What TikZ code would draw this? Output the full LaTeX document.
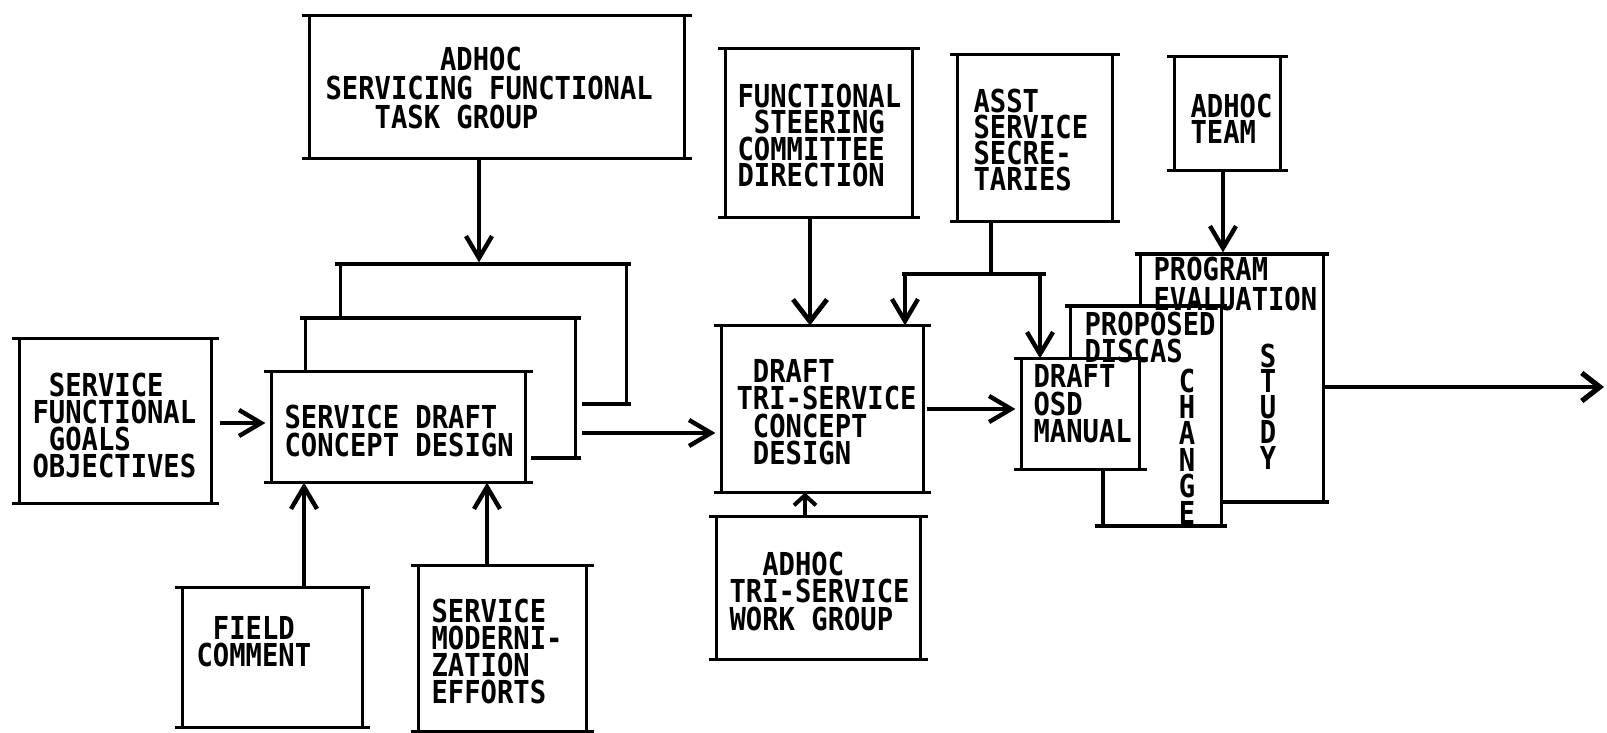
\documentclass[tikz,border=0pt]{standalone}
\usepackage{fontspec}
\newfontfamily\pfont[FakeStretch=0.86]{DejaVu Sans Mono}
\usetikzlibrary{arrows.meta,fit}
\begin{document}
\begin{tikzpicture}[x=0.5pt,y=-0.5pt,line width=1.6pt,
  box/.style={inner sep=0pt,
    append after command={\pgfextra{\let\bx\tikzlastnode}
      ([xshift=-3.5pt]\bx.north west) edge ([xshift=3.5pt]\bx.north east)
      ([xshift=-3.5pt]\bx.south west) edge ([xshift=3.5pt]\bx.south east)
      (\bx.north west) edge (\bx.south west)
      (\bx.north east) edge (\bx.south east)}},
  ghost/.style={inner sep=0pt},
  txt/.style={font=\pfont\bfseries\fontsize{15.8pt}{#1}\selectfont, align=left, inner sep=0pt, anchor=north west},
  txt/.default=13.75pt,
  vtxt/.style={font=\pfont\bfseries\fontsize{15.8pt}{#1}\selectfont, align=center, inner sep=0pt, anchor=north},
  arr/.style={-{Straight Barb[length=11pt,width=13pt,line width=2.2pt]}},
  arrwide/.style={-{Straight Barb[length=11pt,width=17pt,line width=2.4pt]}},
  arrsmall/.style={-{Straight Barb[length=5pt,width=11pt,line width=2pt]}},
  arrbig/.style={-{Straight Barb[length=9pt,width=14pt,line width=2.6pt]}}]
\useasboundingbox (0,0) rectangle (1607,733);

% boxes
\node[box, fit={(311,17)(683,157)}] (bA) {};
\node[box, fit={(727,50)(911,216)}] (bF) {};
\node[box, fit={(959,56)(1111,220)}] (bAS) {};
\node[box, fit={(1176,58)(1279,169)}] (bT) {};
\node[box, fit={(21,340)(210,502)}] (bS) {};
\node[ghost, fit={(342,264)(625,404)}] (bSD3) {};
\node[ghost, fit={(307,318)(574,458)}] (bSD2) {};
\node[box, fit={(273,373)(524,481)}] (bSD) {};
\node[box, fit={(184,589)(361,726)}] (bFC) {};
\node[box, fit={(420,567)(585,730)}] (bSME) {};
\node[box, fit={(723,327)(922,491)}] (bD) {};
\node[box, fit={(718,518)(919,658)}] (bW) {};
\node[ghost, fit={(1142,254)(1322,502)}] (bPE) {};
\node[ghost, fit={(1072,306)(1220,526)}] (bP) {};
\node[box, fit={(1023,360)(1138,468)}] (bM) {};

% partially hidden boxes
\draw (335,264) -- (631,264);
\draw (bSD3.north west) -- (bSD3.west |- bSD2.north);
\draw (bSD3.north east) -- (bSD3.south east);
\draw (582,404) -- (631,404);
\draw (300,318) -- (581,318);
\draw (bSD2.north west) -- (bSD2.west |- bSD.north);
\draw (bSD2.north east) -- (bSD2.south east);
\draw (531,458) -- (581,458);
\draw (1135,254) -- (1329,254);
\draw (bPE.north west) -- (bPE.west |- bP.north);
\draw (bPE.north east) -- (bPE.south east);
\draw (1220,502) -- (1329,502);
\draw (1065,306) -- (1227,306);
\draw (bP.north west) -- (bP.west |- bM.north);
\draw (bP.north east) -- (bP.south east);
\draw (1103,468) -- (1103,526);
\draw (1095,526) -- (1227,526);

% texts
\node[txt=14.5pt] (tA) at (324,45) {\phantom{XXXXXXX}ADHOC\\SERVICING FUNCTIONAL\\\phantom{XXX}TASK GROUP};
\node[txt=13.3pt] (tF) at (736,82) {FUNCTIONAL\\\phantom{X}STEERING\\COMMITTEE\\DIRECTION};
\node[txt=13pt] (tAS) at (972,87) {ASST\\SERVICE\\SECRE-\\TARIES};
\node[txt=13pt] (tT) at (1189,92) {ADHOC\\TEAM};
\node[txt=13.5pt] (tS) at (31,371) {\phantom{X}SERVICE\\FUNCTIONAL\\\phantom{X}GOALS\\OBJECTIVES};
\node[txt=14pt] (tSD) at (283,403) {SERVICE DRAFT\\CONCEPT DESIGN};
\node[txt=13.5pt] (tFC) at (195,615) {\phantom{X}FIELD\\COMMENT};
\node[txt=13.65pt] (tSME) at (430,597) {SERVICE\\MODERNI-\\ZATION\\EFFORTS};
\node[txt=13.65pt] (tD) at (735,358) {\phantom{X}DRAFT\\TRI-SERVICE\\\phantom{X}CONCEPT\\\phantom{X}DESIGN};
\node[txt=13.75pt] (tW) at (728,550) {\phantom{XX}ADHOC\\TRI-SERVICE\\WORK GROUP};
\node[txt=13.75pt] (tM) at (1032,363) {DRAFT\\OSD\\MANUAL};
\node[txt=13.5pt] (tP) at (1083,310) {PROPOSED\\DISCAS};
\node[txt=15pt] (tPE) at (1152,255) {PROGRAM\\EVALUATION};
\node[vtxt=13.2pt] (tCH) at (1187,367) {C\\H\\A\\N\\G\\E};
\node[vtxt=12.75pt] (tST) at (1268,342) {S\\T\\U\\D\\Y};

% connectors
\coordinate (a1) at ([xshift=-9pt]bA.south);
\draw[arr] (a1) -- (a1 |- bSD3.north);
\coordinate (s1) at ([xshift=4pt,yshift=-1pt]bS.east);
\draw[arr,shorten >=3pt] (s1) -- (s1 -| bSD.west);
\coordinate (fc1) at ([xshift=15.75pt]bFC.north);
\draw[arr] (fc1) -- (fc1 |- bSD.south);
\coordinate (sm1) at ([xshift=-7.75pt]bSME.north);
\draw[arr] (sm1) -- (sm1 |- bSD.south);
\coordinate (st) at (582,433);
\draw[arr,shorten >=3pt] (st) -- (st -| bD.west);
\coordinate (f1) at ([xshift=-4.5pt]bF.south);
\draw[arrwide] (f1) -- (f1 |- bD.north);
\coordinate (as1) at ([xshift=-22pt]bAS.south);
\coordinate (j) at (991,274);
\coordinate (jl) at (905,274);
\coordinate (jr) at (1040,274);
\draw (as1) -- (j);
\draw ([xshift=-1.5pt]jl) -- ([xshift=3pt]jr);
\draw[arr] (jl) -- (jl |- bD.north);
\draw[arr] (jr) -- (jr |- bM.north);
\coordinate (w1) at ([xshift=-6.75pt]bW.north);
\draw[arrsmall] (w1) -- (w1 |- bD.south);
\coordinate (d1) at ([xshift=1.5pt]bD.east);
\draw[arr,shorten >=3pt] (d1) -- (d1 -| bM.west);
\coordinate (t1) at ([xshift=-2.25pt]bT.south);
\draw[arr] (t1) -- (t1 |- bPE.north);
\coordinate (p1) at ([yshift=-4.5pt]bPE.east);
\coordinate (out) at (1604,387);
\draw[arrbig] (p1) -- (out);
\end{tikzpicture}
\end{document}
